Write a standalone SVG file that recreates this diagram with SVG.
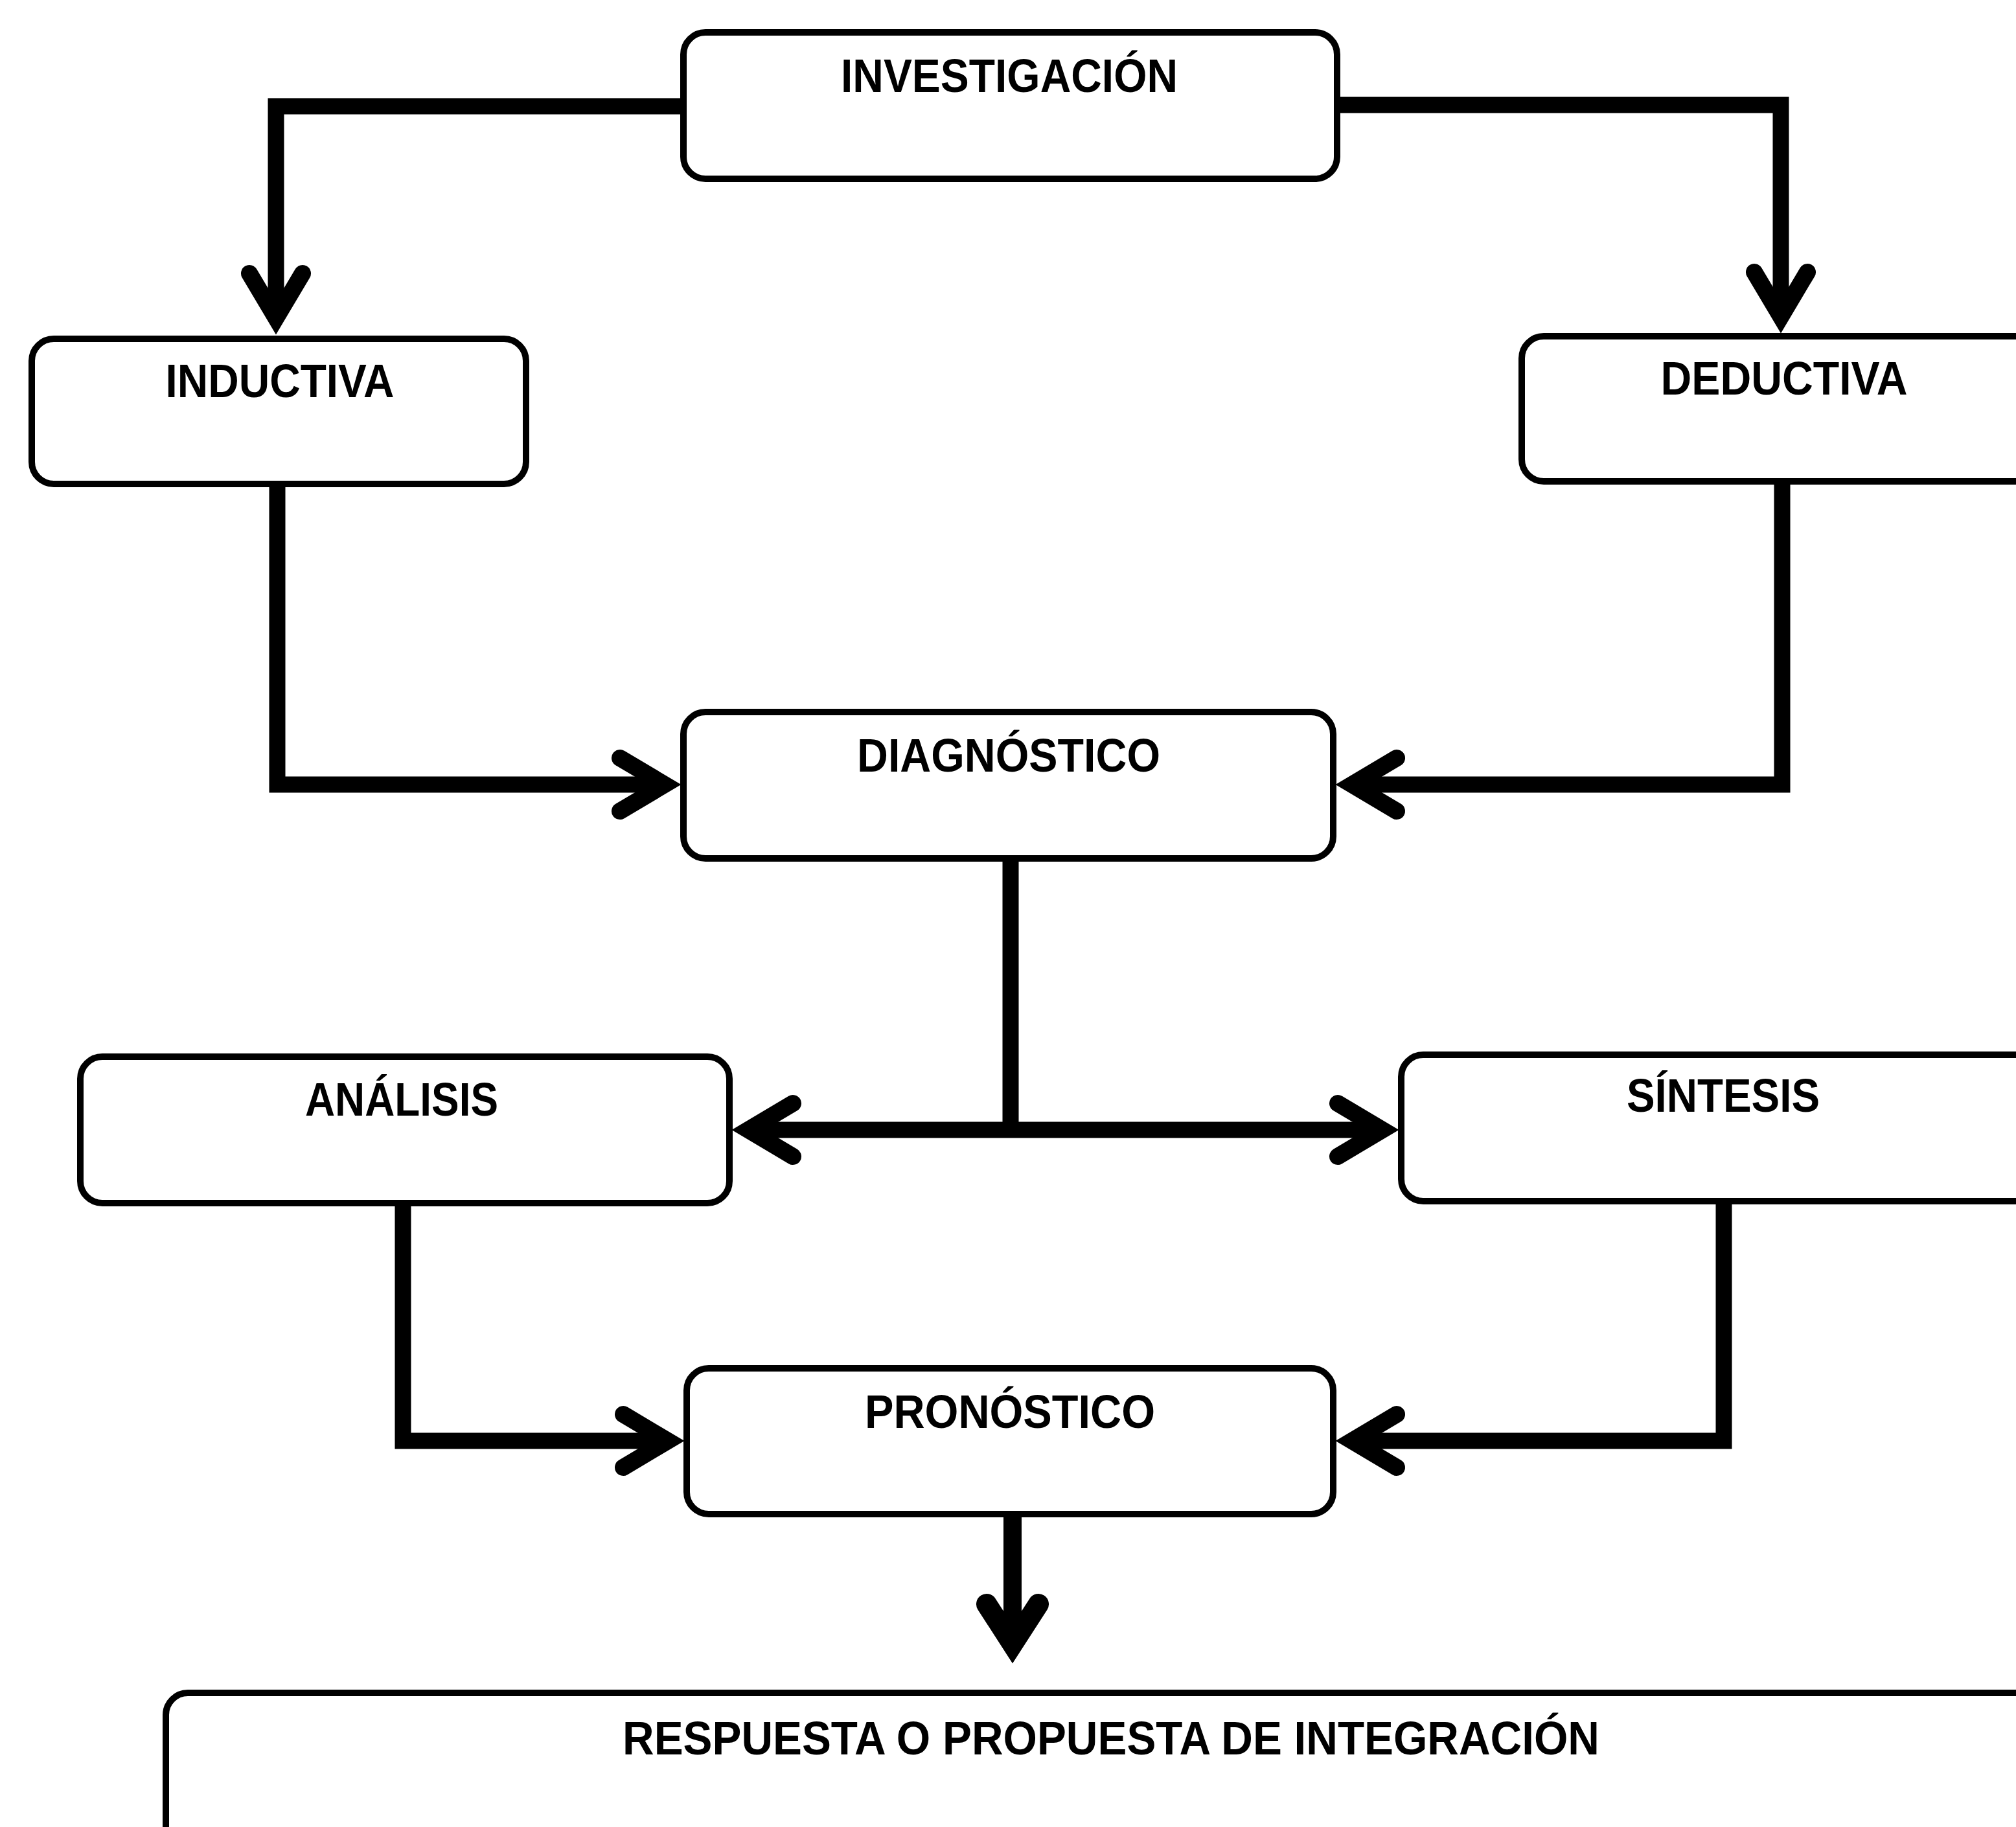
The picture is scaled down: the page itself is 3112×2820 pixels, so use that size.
<svg xmlns="http://www.w3.org/2000/svg" width="3112" height="2820" viewBox="0 0 3112 2820">
  <style>
    .box { fill: #ffffff; stroke: #000000; stroke-width: 10; }
    .lbl { font-family: "Liberation Sans", Arial, sans-serif; font-size: 72px; font-weight: bold; fill: #000000; text-anchor: middle; }
    .conn { fill: none; stroke: #000000; stroke-width: 25; stroke-linejoin: miter; stroke-linecap: butt; }
  </style>
  <defs>
    <marker id="arrow" markerUnits="userSpaceOnUse" orient="auto" viewBox="-130 -70 140 140" markerWidth="140" markerHeight="140" refX="-30" refY="0" overflow="visible">
      <polyline points="-94,-41 -25,0 -94,41" fill="none" stroke="#000000" stroke-width="26" stroke-linecap="round" stroke-linejoin="miter"/>
    </marker>
    <marker id="arrowBold" markerUnits="userSpaceOnUse" orient="auto" viewBox="-130 -70 140 140" markerWidth="140" markerHeight="140" refX="-30" refY="0" overflow="visible">
      <polyline points="-92,-40 -30,0 -92,40" fill="none" stroke="#000000" stroke-width="32" stroke-linecap="round" stroke-linejoin="miter"/>
    </marker>
  </defs>
  <rect width="3112" height="2820" fill="#ffffff"/>

  <g id="connectors">
    <path class="conn" d="M1055,164 H426 V486" marker-end="url(#arrow)"/>
    <path class="conn" d="M2064,162 H2749 V484" marker-end="url(#arrow)"/>
    <path class="conn" d="M428,747 V1211 H1021" marker-end="url(#arrow)"/>
    <path class="conn" d="M2751,743 V1211 H2092" marker-end="url(#arrow)"/>
    <path class="conn" d="M1560,1325 V1744"/>
    <path class="conn" d="M1560,1744 H1160" marker-end="url(#arrow)"/>
    <path class="conn" d="M1560,1744 H2129" marker-end="url(#arrow)"/>
    <path class="conn" d="M622,1857 V2224 H1026" marker-end="url(#arrow)"/>
    <path class="conn" d="M2661,1854 V2224 H2092" marker-end="url(#arrow)"/>
    <path class="conn" style="stroke-width:28" d="M1563,2337 V2538" marker-end="url(#arrowBold)"/>
  </g>

  <g id="investigacion">
    <rect class="box" x="1055" y="50" width="1009" height="226" rx="34"/>
    <text class="lbl" x="1558" y="142" textLength="520" lengthAdjust="spacingAndGlyphs">INVESTIGACIÓN</text>
  </g>
  <g id="inductiva">
    <rect class="box" x="49" y="523" width="763" height="224" rx="34"/>
    <text class="lbl" x="432" y="613" textLength="353" lengthAdjust="spacingAndGlyphs">INDUCTIVA</text>
  </g>
  <g id="deductiva">
    <rect class="box" x="2349" y="519" width="820" height="224" rx="34"/>
    <text class="lbl" x="2754" y="609" textLength="381" lengthAdjust="spacingAndGlyphs">DEDUCTIVA</text>
  </g>
  <g id="diagnostico">
    <rect class="box" x="1055" y="1099" width="1003" height="226" rx="34"/>
    <text class="lbl" x="1557" y="1191" textLength="468" lengthAdjust="spacingAndGlyphs">DIAGNÓSTICO</text>
  </g>
  <g id="analisis">
    <rect class="box" x="124" y="1631" width="1002" height="226" rx="34"/>
    <text class="lbl" x="620" y="1722" textLength="298" lengthAdjust="spacingAndGlyphs">ANÁLISIS</text>
  </g>
  <g id="sintesis">
    <rect class="box" x="2163" y="1628" width="1000" height="226" rx="34"/>
    <text class="lbl" x="2660" y="1716" textLength="298" lengthAdjust="spacingAndGlyphs">SÍNTESIS</text>
  </g>
  <g id="pronostico">
    <rect class="box" x="1060" y="2112" width="998" height="225" rx="34"/>
    <text class="lbl" x="1559" y="2204" textLength="448" lengthAdjust="spacingAndGlyphs">PRONÓSTICO</text>
  </g>
  <g id="respuesta">
    <rect class="box" x="256" y="2613" width="2950" height="320" rx="34"/>
    <text class="lbl" x="1715" y="2708" textLength="1508" lengthAdjust="spacingAndGlyphs">RESPUESTA O PROPUESTA DE INTEGRACIÓN</text>
  </g>
</svg>
